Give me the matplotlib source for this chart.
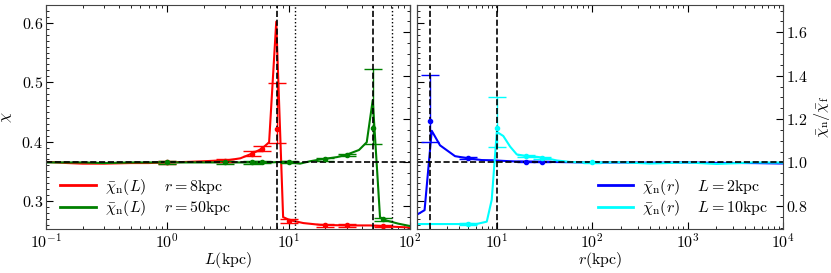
import matplotlib
matplotlib.use("Agg")
import matplotlib.pyplot as plt
from matplotlib.ticker import MultipleLocator, LogLocator, NullFormatter
import numpy as np

plt.rcParams['font.family'] = 'serif'
plt.rcParams['font.serif'] = ['cmr10', 'DejaVu Serif']
plt.rcParams['mathtext.fontset'] = 'cm'
plt.rcParams['axes.formatter.use_mathtext'] = True
plt.rcParams['axes.unicode_minus'] = False

# ---------------- data ----------------
chi_f = 0.365

# left panel: chi_n(L), r = 8 kpc
L_red = [0.1, 0.15, 0.2, 0.3, 0.5, 0.7, 1.0, 1.5, 2.0, 2.5, 3.0, 4.0, 5.0, 6.0, 6.9, 7.9,
         9.0, 10.2, 13.2, 18.2, 30, 47, 70, 100]
chi_red = [0.366, 0.364, 0.363, 0.363, 0.364, 0.364, 0.365, 0.366, 0.367, 0.368, 0.368, 0.372,
           0.380, 0.388, 0.399, 0.602, 0.273, 0.268, 0.263, 0.260, 0.259, 0.259, 0.257, 0.2555]
Lerr_red = [1.0, 3.0, 5.0, 6.0, 8.0, 10.0, 20.0, 30.0, 60.0]
cerr_red = [0.365, 0.368, 0.380, 0.388, 0.422, 0.266, 0.259, 0.259, 0.258]
lo_red = [0.002, 0.002, 0.004, 0.004, 0.024, 0.003, 0.002, 0.002, 0.002]
hi_red = [0.002, 0.002, 0.004, 0.004, 0.076, 0.003, 0.002, 0.002, 0.002]

# left panel: chi_n(L), r = 50 kpc
L_green = [0.1, 0.2, 0.3, 0.5, 0.7, 1, 2, 3, 5, 7, 9, 10, 12.4, 15, 18.2, 25, 30, 38, 44,
           49.3, 56.6, 62, 80, 100]
chi_green = [0.365, 0.365, 0.364, 0.365, 0.365, 0.365, 0.365, 0.365, 0.365, 0.365, 0.366, 0.366,
             0.363, 0.367, 0.370, 0.374, 0.378, 0.386, 0.399, 0.470, 0.273, 0.268, 0.262, 0.258]
Lerr_green = [1.0, 3.0, 5.0, 6.0, 10.0, 20.0, 30.0, 50.0, 60.0]
cerr_green = [0.365, 0.365, 0.365, 0.366, 0.366, 0.370, 0.378, 0.423, 0.269]
lo_green = [0.002, 0.002, 0.002, 0.002, 0.002, 0.002, 0.002, 0.027, 0.002]
hi_green = [0.002, 0.002, 0.002, 0.002, 0.002, 0.002, 0.002, 0.099, 0.002]

# right panel: chi_n(r)/chi_f, L = 2 kpc
r_blue = [1.44, 1.75, 2.08, 2.54, 3.65, 5.0, 6.96, 9, 12, 15, 20, 30, 40, 60, 100, 200, 400,
          1000, 2000, 5000, 10000]
rat_blue = [0.758, 0.780, 1.146, 1.079, 1.029, 1.019, 1.011, 1.010, 1.007, 1.005, 1.004, 1.003,
            1.002, 1.001, 0.999, 1.000, 0.999, 1.000, 0.998, 0.997, 0.995]
rerr_blue = [2.0, 5.0, 20.0, 30.0]
cerr_blue = [1.190, 1.019, 1.004, 1.003]
lo_blue = [0.096, 0.005, 0.003, 0.003]
hi_blue = [0.215, 0.005, 0.003, 0.003]

# right panel: chi_n(r)/chi_f, L = 10 kpc
r_cyan = [1.44, 2, 3, 4, 5, 6.1, 7.85, 8.85, 10.0, 11.7, 13.8, 16.2, 20.6, 26.3, 33.5, 42.7,
          60, 100, 200, 400, 1000, 2000, 5000, 10000]
rat_cyan = [0.716, 0.716, 0.716, 0.716, 0.717, 0.716, 0.727, 0.828, 1.141, 1.122, 1.073, 1.037,
            1.029, 1.026, 1.019, 1.009, 1.002, 0.999, 1.001, 0.995, 1.000, 0.993, 1.000, 0.999]
rerr_cyan = [5.0, 10.0, 20.0, 30.0, 100.0]
cerr_cyan = [0.716, 1.158, 1.029, 1.020, 1.000]
lo_cyan = [0.004, 0.085, 0.005, 0.004, 0.003]
hi_cyan = [0.004, 0.145, 0.005, 0.004, 0.003]

vlines_left_dashed = [8, 50]
vlines_left_dotted = [8 * np.sqrt(2), 50 * np.sqrt(2)]
vlines_right_dashed = [2, 10]

# ---------------- figure ----------------
W, H = 831, 273
fig = plt.figure(figsize=(W / 100, H / 100), dpi=100)
ax1 = fig.add_axes([46 / W, 44 / H, (410 - 46) / W, 224 / H])
ax2 = fig.add_axes([416.5 / W, 44 / H, (783 - 416.5) / W, 224 / H])

ylo, yhi = 0.253, 0.630
FS = 11.5
LFS = 11.5
SEP = r'\quad\;'
LEGKW = dict(frameon=False, fontsize=LFS, handlelength=2.2, handletextpad=0.6,
             labelspacing=0.1)

# left panel
ax1.plot(L_red, chi_red, color='red', lw=1.5,
         label=r'$\bar{\chi}_{\rm n}(L)' + SEP + r'r=8{\rm kpc}$')
ax1.plot(L_green, chi_green, color='green', lw=1.5,
         label=r'$\bar{\chi}_{\rm n}(L)' + SEP + r'r=50{\rm kpc}$')
ax1.errorbar(Lerr_red, cerr_red, yerr=[lo_red, hi_red], fmt='o', ms=3, color='red',
             capsize=6.5, elinewidth=1, capthick=1)
ax1.errorbar(Lerr_green, cerr_green, yerr=[lo_green, hi_green], fmt='o', ms=3, color='green',
             capsize=6.5, elinewidth=1, capthick=1)
ax1.axhline(chi_f, color='k', ls='--', lw=1.2)
for v in vlines_left_dashed:
    ax1.axvline(v, color='k', ls='--', lw=1.2)
for v in vlines_left_dotted:
    ax1.axvline(v, color='k', ls=':', lw=1.0)
ax1.set_xscale('log')
ax1.set_xlim(0.1, 100)
ax1.set_ylim(ylo, yhi)
ax1.yaxis.set_major_locator(MultipleLocator(0.1))
ax1.yaxis.set_minor_locator(MultipleLocator(0.01))
ax1.tick_params(which='both', direction='in', top=True, right=False, labelsize=FS, pad=2)
ax1.tick_params(which='major', length=5)
ax1.tick_params(which='minor', length=2.5)
ax1.set_xlabel(r'$L(\rm kpc)$', fontsize=FS)
ax1.xaxis.set_label_coords(0.5, -0.095)
ax1.set_ylabel(r'$\bar{\chi}$', fontsize=FS)
ax1.yaxis.set_label_coords(-0.085, 0.5)
sec1 = ax1.secondary_yaxis('right', functions=(lambda c: c / chi_f, lambda r: r * chi_f))
sec1.yaxis.set_major_locator(MultipleLocator(0.2))
sec1.yaxis.set_minor_locator(MultipleLocator(0.05))
sec1.tick_params(which='both', direction='in', labelright=False)
sec1.tick_params(which='major', length=5)
sec1.tick_params(which='minor', length=2.5)
leg1 = ax1.legend(loc='lower left', bbox_to_anchor=(0.0, -0.017), **LEGKW)
for h in leg1.get_lines():
    h.set_linewidth(2)

# right panel
ax2.plot(r_blue, rat_blue, color='blue', lw=1.5,
         label=r'$\bar{\chi}_{\rm n}(r)' + SEP + r'L=2{\rm kpc}$')
ax2.plot(r_cyan, rat_cyan, color='cyan', lw=1.5,
         label=r'$\bar{\chi}_{\rm n}(r)' + SEP + r'L=10{\rm kpc}$')
ax2.errorbar(rerr_blue, cerr_blue, yerr=[lo_blue, hi_blue], fmt='o', ms=3, color='blue',
             capsize=6.5, elinewidth=1, capthick=1)
ax2.errorbar(rerr_cyan, cerr_cyan, yerr=[lo_cyan, hi_cyan], fmt='o', ms=3, color='cyan',
             capsize=6.5, elinewidth=1, capthick=1)
ax2.axhline(1.0, color='k', ls='--', lw=1.2)
for v in vlines_right_dashed:
    ax2.axvline(v, color='k', ls='--', lw=1.2)
ax2.set_xscale('log')
ax2.set_xlim(1.44, 1e4)
ax2.set_ylim(ylo / chi_f, yhi / chi_f)
ax2.yaxis.tick_right()
ax2.yaxis.set_label_position('right')
ax2.yaxis.set_major_locator(MultipleLocator(0.2))
ax2.yaxis.set_minor_locator(MultipleLocator(0.05))
ax2.tick_params(which='both', direction='in', top=True, left=False, right=True,
                labelsize=FS, pad=2)
ax2.tick_params(which='major', length=5)
ax2.tick_params(which='minor', length=2.5)
ax2.set_xlabel(r'$r(\rm kpc)$', fontsize=FS)
ax2.xaxis.set_label_coords(0.5, -0.095)
ax2.set_ylabel(r'$\bar{\chi}_{\rm n}/\bar{\chi}_{\rm f}$', fontsize=FS)
ax2.yaxis.set_label_coords(1.078, 0.5)
sec2 = ax2.secondary_yaxis('left', functions=(lambda r: r * chi_f, lambda c: c / chi_f))
sec2.yaxis.set_major_locator(MultipleLocator(0.1))
sec2.yaxis.set_minor_locator(MultipleLocator(0.01))
sec2.tick_params(which='both', direction='in', labelleft=False)
sec2.tick_params(which='major', length=5)
sec2.tick_params(which='minor', length=2.5)
leg2 = ax2.legend(loc='lower right', bbox_to_anchor=(1.0, -0.017), **LEGKW)
for h in leg2.get_lines():
    h.set_linewidth(2)

for ax in (ax1, ax2):
    ax.xaxis.set_major_locator(LogLocator(base=10, numticks=10))
    ax.xaxis.set_minor_locator(LogLocator(base=10, subs=np.arange(2, 10), numticks=10))
    ax.xaxis.set_minor_formatter(NullFormatter())
    for s in ax.spines.values():
        s.set_color('#444444')

fig.savefig('out.png', dpi=100)
